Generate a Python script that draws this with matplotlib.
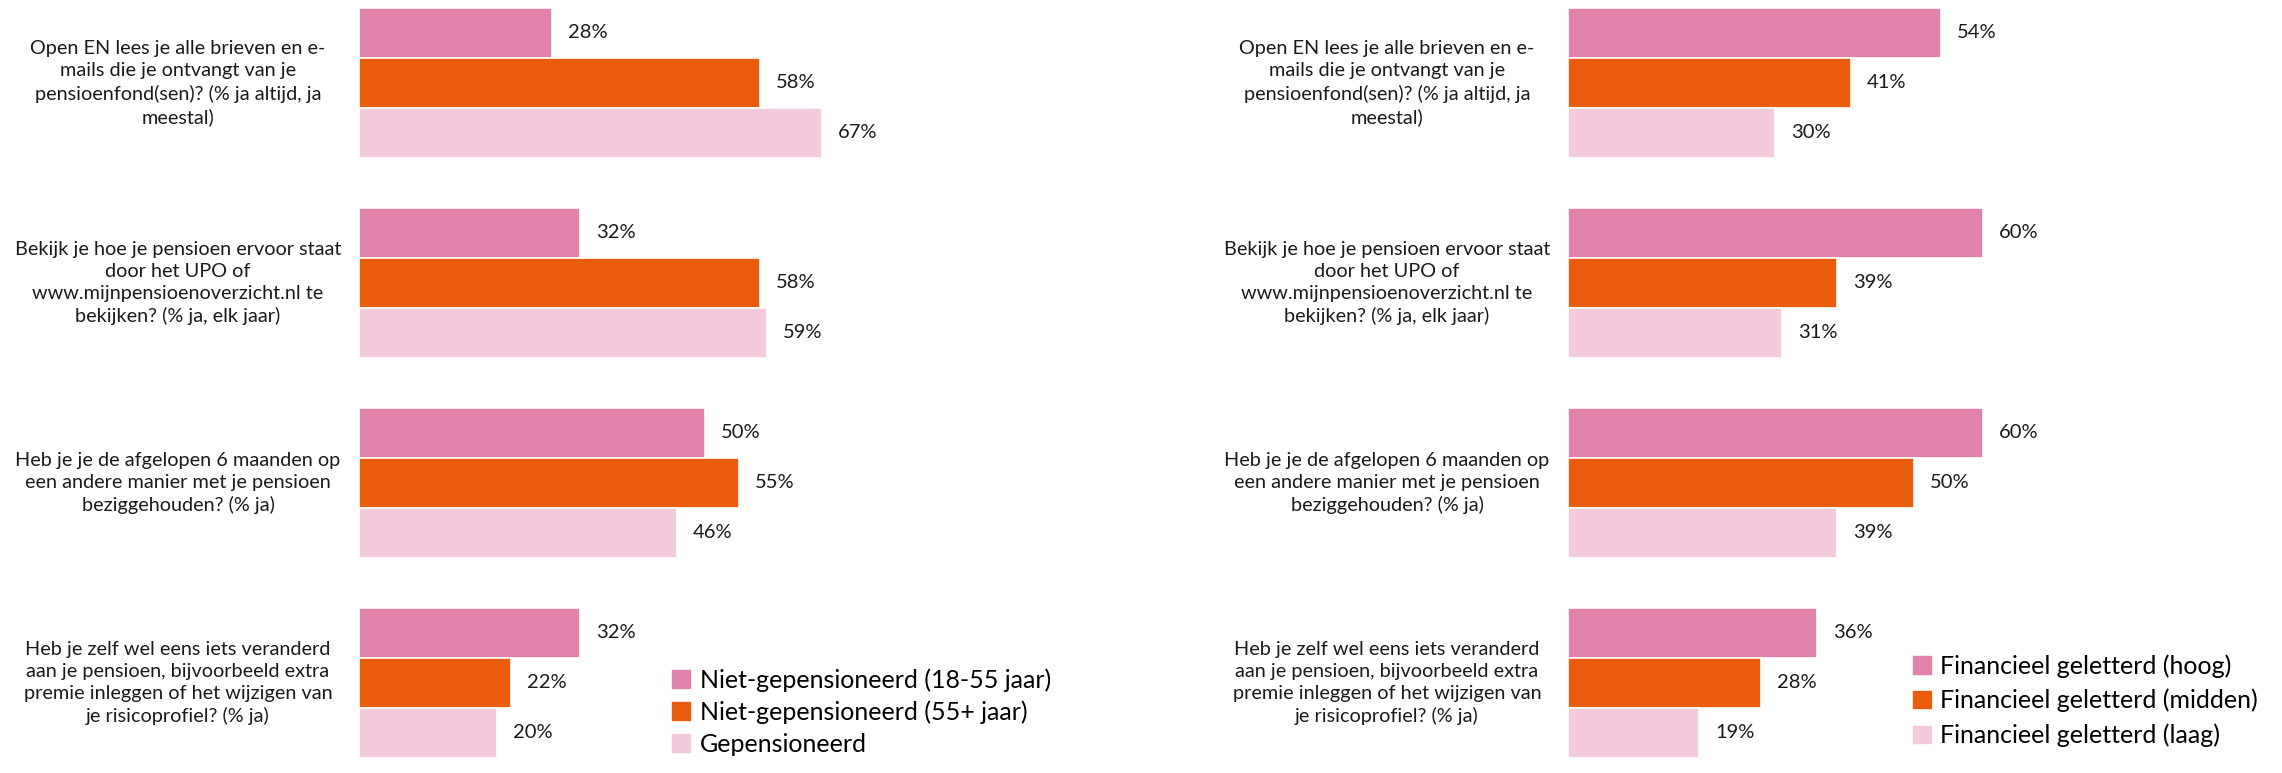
import numpy as np
import matplotlib.pyplot as plt
from matplotlib.patches import Patch

plt.rcParams['font.family'] = ['Lato', 'DejaVu Sans']

questions = [
    'Open EN lees je alle brieven en e-\nmails die je ontvangt van je\npensioenfond(sen)? (% ja altijd, ja\nmeestal)',
    'Bekijk je hoe je pensioen ervoor staat\ndoor het UPO of\nwww.mijnpensioenoverzicht.nl te\nbekijken? (% ja, elk jaar)',
    'Heb je je de afgelopen 6 maanden op\neen andere manier met je pensioen\nbeziggehouden? (% ja)',
    'Heb je zelf wel eens iets veranderd\naan je pensioen, bijvoorbeeld extra\npremie inleggen of het wijzigen van\nje risicoprofiel? (% ja)',
]

left_series = ['Niet-gepensioneerd (18-55 jaar)', 'Niet-gepensioneerd (55+ jaar)', 'Gepensioneerd']
left_values = [
    [28, 32, 50, 32],
    [58, 58, 55, 22],
    [67, 59, 46, 20],
]

right_series = ['Financieel geletterd (hoog)', 'Financieel geletterd (midden)', 'Financieel geletterd (laag)']
right_values = [
    [54, 60, 60, 36],
    [41, 39, 50, 28],
    [30, 31, 39, 19],
]

colors = ['#E082AA', '#EA5C0E', '#F3CADC']

W, H = 2282, 773
fig = plt.figure(figsize=(W / 100, H / 100), dpi=100)


def panel(x0, series, values, legend_xy, spacing):
    ax = fig.add_axes([x0 / W, 15 / H, 691 / W, 750 / H])
    for k, (name, vals) in enumerate(zip(series, values)):
        ys = np.arange(len(vals)) * 4 + k
        ax.barh(ys, vals, height=1.0, color=colors[k], edgecolor='white', linewidth=1.2, label=name)
        for y, v in zip(ys, vals):
            ax.text(v + 2.3, y, f'{v}%', va='center', ha='left', fontsize=14.5, color='#1a1a1a')
    for i, q in enumerate(questions):
        ax.text(-26.2, i * 4 + 1, q, ha='center', va='center', fontsize=14.3,
                color='#1a1a1a', linespacing=1.35)
    ax.set_xlim(0, 100)
    ax.set_ylim(14.5, -0.5)
    ax.axis('off')
    handles = [Patch(color=c) for c in colors]
    fig.legend(handles, series, loc='upper left', bbox_to_anchor=legend_xy,
               bbox_transform=fig.transFigure, frameon=False, fontsize=18,
               handlelength=0.7, handleheight=0.7, handletextpad=0.4,
               labelspacing=spacing, borderpad=0, borderaxespad=0)


panel(359, left_series, left_values, (672 / W, 1 - 668 / H), 0.35)
panel(1568, right_series, right_values, (1913 / W, 1 - 654 / H), 0.45)

fig.savefig('out.png', dpi=100, facecolor='white')
